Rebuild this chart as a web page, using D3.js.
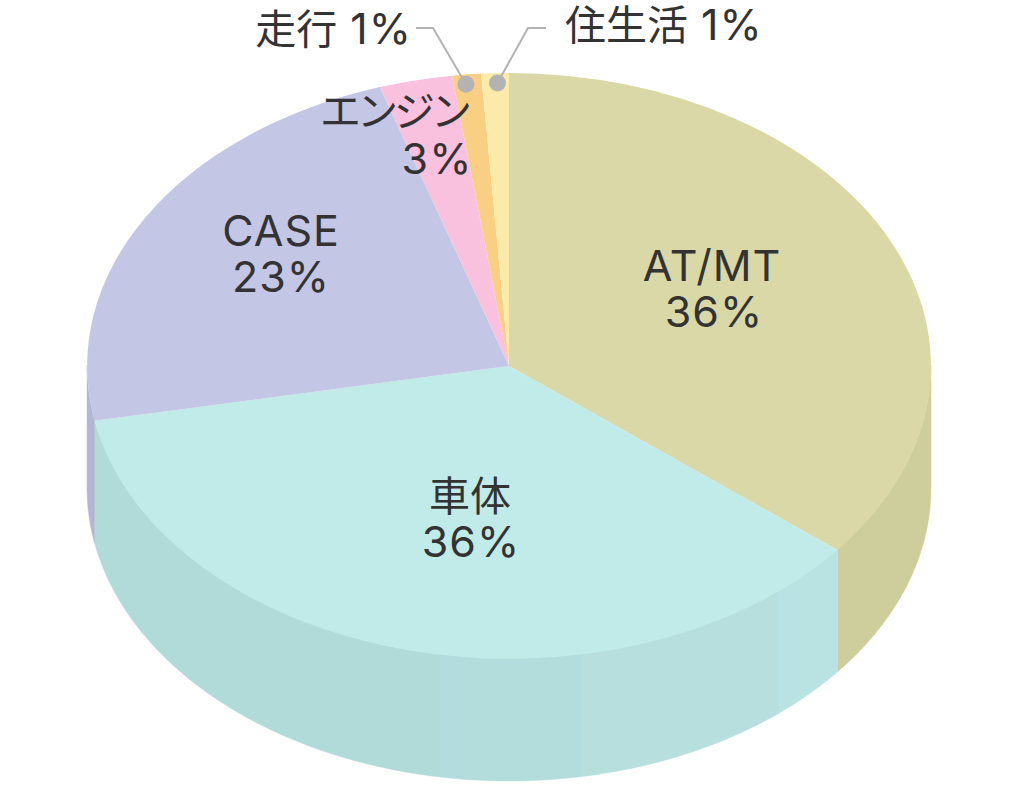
<!DOCTYPE html>
<html>
<head>
<meta charset="utf-8">
<script src="https://cdn.jsdelivr.net/npm/d3@7"></script>
<style>
html, body { margin: 0; padding: 0; background: #fff; }
svg { display: block; }
text { font-family: Inter, "Noto Sans CJK JP", sans-serif; font-size: 41px; fill: #333; }
.latin { font-size: 43px; letter-spacing: 1px; }
</style>
</head>
<body>
<svg id="chart" width="1019" height="788"></svg>
<script>
// chart data (share of the pie)
var categories = ["AT/MT", "車体", "CASE", "エンジン", "走行", "住生活"];
var shares = [35.8, 36.2, 23.05, 2.8, 1.1, 1.05];
var shareLabels = ["36%", "36%", "23%", "3%", "1%", "1%"];

// colours of the top face and the wall
var topColors = ["#d9d8a6", "#c0ebe9", "#c3c7e5", "#f9c1de", "#f9cf83", "#fbebaa"];
var wallColors = ["#cecd9c", "#b3dddc", "#b5b6d4", "#ecb5d2", "#ecc47c", "#eedfa1"];

// faint vertical bands on the 車体 wall, x of each break and its colour
var bandBreaks = [440, 582, 779];
var bandColors = ["#b1dbd9", "#b3dddc", "#b6dfde", "#b9e3e2"];

var cx = 509, cy = 366, rx = 422, ry = 293, depth = 122;

var svg = d3.select("#chart");

var x = d3.scaleLinear().domain([-1, 1]).range([cx - rx, cx + rx]);
var y = d3.scaleLinear().domain([-1, 1]).range([cy - ry, cy + ry]);

var pie = d3.pie().sort(null);
var slices = pie(shares);

// Wall of one angular range, only the front half of the pie is visible
function wallPath(a0, a1)
{
	var angles = d3.range(0, 121).map(function(i) {
		return a0 + (a1 - a0) * i / 120;
	});
	var area = d3.area()
		.x(function(a) { return x(Math.sin(a)); })
		.y0(function(a) { return y(-Math.cos(a)) - 1; })
		.y1(function(a) { return y(-Math.cos(a)) + depth; });
	return area(angles);
}

var frontStart = Math.PI / 2, frontEnd = Math.PI * 1.5;

// Draw the walls, the hairline stroke closes the seams between them
slices.forEach(function(d, i) {
	var a0 = Math.max(d.startAngle, frontStart);
	var a1 = Math.min(d.endAngle, frontEnd);
	if (a1 <= a0) return;

	if (categories[i] == "車体")
	{
		// split at the bands, from the left of the wall to the right
		var edges = [a1].concat(bandBreaks.map(function(b) {
			return Math.PI - Math.asin(x.invert(b));
		}), [a0]);
		for (var k = 0; k < bandColors.length; k++) {
			svg.append("path")
				.attr("d", wallPath(edges[k + 1], edges[k]))
				.attr("fill", bandColors[k])
				.attr("stroke", bandColors[k])
				.attr("stroke-width", 0.4);
		}
	}
	else
	{
		svg.append("path")
			.attr("d", wallPath(a0, a1))
			.attr("fill", wallColors[i])
			.attr("stroke", wallColors[i])
			.attr("stroke-width", 0.4);
	}
});

// Top face: a unit pie stretched to the ellipse
var arc = d3.arc().innerRadius(0).outerRadius(1);

svg.append("g")
	.attr("transform", "translate(" + cx + "," + cy + ") scale(" + rx + "," + ry + ")")
	.selectAll("path")
	.data(slices)
	.enter().append("path")
	.attr("d", arc)
	.attr("fill", function(d, i) { return topColors[i]; });

// Labels inside the pie, two lines
var insideLabels = [
	{ i: 0, x: 712, y1: 281, y2: 327, x2: 714, latin: true },
	{ i: 1, x: 470, y1: 511, y2: 557, x2: 471 },
	{ i: 2, x: 281, y1: 246, y2: 292, latin: true },
	{ i: 3, x: 394, y1: 126, y2: 174, x2: 437, spacing: -4 }
];

insideLabels.forEach(function(l) {
	var name = svg.append("text")
		.attr("x", l.x).attr("y", l.y1)
		.attr("text-anchor", "middle")
		.text(categories[l.i]);
	if (l.latin) name.attr("class", "latin");
	if (l.spacing) name.style("letter-spacing", l.spacing + "px");
	svg.append("text")
		.attr("class", "latin")
		.attr("x", l.x2 || l.x).attr("y", l.y2)
		.attr("text-anchor", "middle")
		.text(shareLabels[l.i]);
});

// Small slices get a leader line and a label above the pie
var leaders = [
	{ i: 4, shift: -2, elbow: [433, 28], end: [416, 28], labelX: 412, labelY: 44, anchor: "end" },
	{ i: 5, shift: 2, elbow: [528, 28], end: [546, 28], labelX: 565, labelY: 40, anchor: "start" }
];

leaders.forEach(function(l) {
	var mid = (slices[l.i].startAngle + slices[l.i].endAngle) / 2;
	var px = x(0.97 * Math.sin(mid)) + l.shift, py = y(-0.97 * Math.cos(mid)) + 1;

	svg.append("path")
		.attr("d", d3.line()([l.end, l.elbow, [px, py]]))
		.attr("fill", "none")
		.attr("stroke", "#b3b3b3")
		.attr("stroke-width", 2);
	svg.append("circle")
		.attr("cx", px).attr("cy", py).attr("r", 8.5)
		.attr("fill", "#b3b3b3");
	var label = svg.append("text")
		.attr("x", l.labelX).attr("y", l.labelY)
		.attr("text-anchor", l.anchor);
	label.append("tspan").text(categories[l.i]);
	label.append("tspan").attr("class", "latin").text(" " + shareLabels[l.i]);
});
</script>
</body>
</html>
